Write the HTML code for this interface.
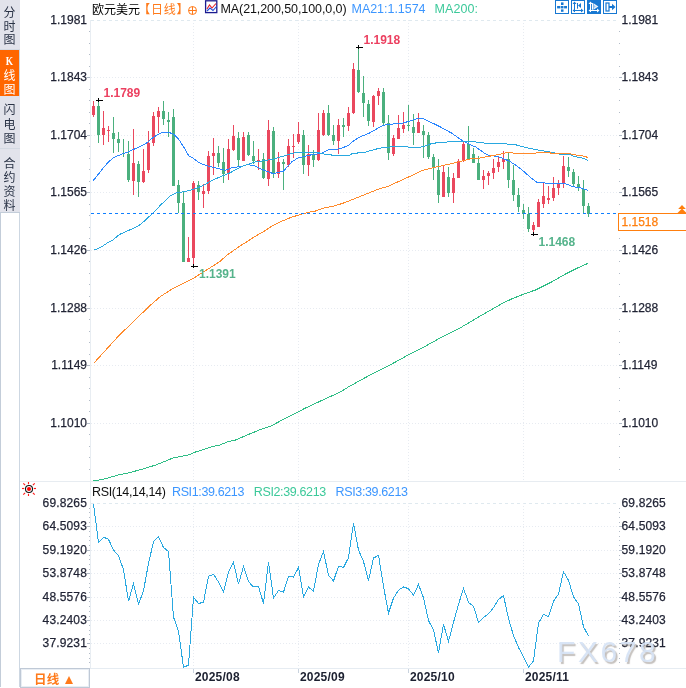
<!DOCTYPE html>
<html><head><meta charset="utf-8"><title>欧元美元 日线</title>
<style>
html,body{margin:0;padding:0;background:#fff;}
body{width:686px;height:688px;position:relative;overflow:hidden;font-family:"Liberation Sans","Noto Sans CJK SC",sans-serif;font-size:12px;color:#1f2233;}
#side{position:absolute;left:0;top:0;width:18px;height:687px;border-left:1px solid #c3cdd9;border-right:1px solid #cdd7e2;background:#fff;}
#side .tab{position:absolute;left:-1px;width:20px;background:#e2e3eb;color:#2a3346;font-size:12px;box-sizing:border-box;border-bottom:1px solid #d3d9e2;font-family:"Liberation Sans","Noto Sans CJK SC",sans-serif;}
#side .tab span{position:absolute;left:0;width:19px;text-align:center;line-height:14px;height:14px;}
#side .tab span.k{font-family:'Liberation Serif',serif;font-weight:bold;font-size:13px;transform:scaleX(0.72);}
#side .on{background:#ff6600;color:#fff;width:19px;border-bottom:none;}
svg{position:absolute;left:0;top:0;}
.yl,.yr{-webkit-text-stroke:0.25px currentColor;}
.yl{position:absolute;left:30px;width:57px;text-align:right;line-height:14px;height:14px;font-size:12px;white-space:nowrap;}
.yr{position:absolute;left:621.5px;line-height:14px;height:14px;font-size:12px;white-space:nowrap;}
.tl{position:absolute;top:670px;font-weight:bold;font-size:12px;line-height:14px;color:#1c2030;letter-spacing:0.2px;}
.hd{position:absolute;top:1px;line-height:17px;height:17px;white-space:nowrap;font-size:12px;}
.hx{font-size:12.5px;top:1.2px;}
.pk{position:absolute;font-weight:bold;font-size:12px;line-height:12px;white-space:nowrap;}
#btn{position:absolute;left:20px;top:668px;width:68px;height:18px;border:1px solid #bfc9d6;box-sizing:content-box;background:#fff;box-shadow:inset 0 0 0 1px #e9eef4;}
#wm{position:absolute;left:557px;top:634px;font-size:30px;line-height:36px;letter-spacing:2.6px;color:rgba(214,227,245,0.93);text-shadow:1.6px 1.6px 1px rgba(140,132,125,0.5);white-space:nowrap;}
</style></head><body>
<div id="side">
<div class="tab" style="top:0px;height:50px;"><span style="top:6.2px">分</span><span style="top:19.7px">时</span><span style="top:33.2px">图</span></div>
<div class="tab on" style="top:50px;height:46px;"><span class="k" style="top:4.2px">K</span><span style="top:18.9px">线</span><span style="top:32.8px">图</span></div>
<div class="tab" style="top:96px;height:53px;"><span style="top:7.2px">闪</span><span style="top:21.7px">电</span><span style="top:36.2px">图</span></div>
<div class="tab" style="top:149px;height:64px;border-bottom:1px solid #c3cdd9;"><span style="top:7.7px">合</span><span style="top:21.5px">约</span><span style="top:35.5px">资</span><span style="top:49.6px">料</span></div>
</div>
<svg width="686" height="688" viewBox="0 0 686 688">
<line x1="91" y1="20.5" x2="617" y2="20.5" stroke="#dfe9ef" stroke-width="1" stroke-dasharray="3 3"/>
<line x1="91" y1="77.5" x2="617" y2="77.5" stroke="#e7ebf1" stroke-width="1" stroke-dasharray="1 2"/>
<line x1="91" y1="135.5" x2="617" y2="135.5" stroke="#e7ebf1" stroke-width="1" stroke-dasharray="1 2"/>
<line x1="91" y1="192.5" x2="617" y2="192.5" stroke="#e7ebf1" stroke-width="1" stroke-dasharray="1 2"/>
<line x1="91" y1="250.5" x2="617" y2="250.5" stroke="#e7ebf1" stroke-width="1" stroke-dasharray="1 2"/>
<line x1="91" y1="308.5" x2="617" y2="308.5" stroke="#e7ebf1" stroke-width="1" stroke-dasharray="1 2"/>
<line x1="91" y1="365.5" x2="617" y2="365.5" stroke="#e7ebf1" stroke-width="1" stroke-dasharray="1 2"/>
<line x1="91" y1="423.5" x2="617" y2="423.5" stroke="#e7ebf1" stroke-width="1" stroke-dasharray="1 2"/>
<line x1="91" y1="503.5" x2="617" y2="503.5" stroke="#dfe9ef" stroke-width="1" stroke-dasharray="3 3"/>
<line x1="91" y1="526.5" x2="617" y2="526.5" stroke="#e7ebf1" stroke-width="1" stroke-dasharray="1 2"/>
<line x1="91" y1="550.5" x2="617" y2="550.5" stroke="#e7ebf1" stroke-width="1" stroke-dasharray="1 2"/>
<line x1="91" y1="573.5" x2="617" y2="573.5" stroke="#e7ebf1" stroke-width="1" stroke-dasharray="1 2"/>
<line x1="91" y1="597.5" x2="617" y2="597.5" stroke="#e7ebf1" stroke-width="1" stroke-dasharray="1 2"/>
<line x1="91" y1="620.5" x2="617" y2="620.5" stroke="#e7ebf1" stroke-width="1" stroke-dasharray="1 2"/>
<line x1="91" y1="643.5" x2="617" y2="643.5" stroke="#e7ebf1" stroke-width="1" stroke-dasharray="1 2"/>
<line x1="193.5" y1="20" x2="193.5" y2="481" stroke="#e7ebf1" stroke-width="1" stroke-dasharray="1 2"/>
<line x1="193.5" y1="503" x2="193.5" y2="668" stroke="#e7ebf1" stroke-width="1" stroke-dasharray="1 2"/>
<line x1="193.5" y1="668" x2="193.5" y2="673" stroke="#c9d3de" stroke-width="1"/>
<line x1="298.5" y1="20" x2="298.5" y2="481" stroke="#e7ebf1" stroke-width="1" stroke-dasharray="1 2"/>
<line x1="298.5" y1="503" x2="298.5" y2="668" stroke="#e7ebf1" stroke-width="1" stroke-dasharray="1 2"/>
<line x1="298.5" y1="668" x2="298.5" y2="673" stroke="#c9d3de" stroke-width="1"/>
<line x1="408.5" y1="20" x2="408.5" y2="481" stroke="#e7ebf1" stroke-width="1" stroke-dasharray="1 2"/>
<line x1="408.5" y1="503" x2="408.5" y2="668" stroke="#e7ebf1" stroke-width="1" stroke-dasharray="1 2"/>
<line x1="408.5" y1="668" x2="408.5" y2="673" stroke="#c9d3de" stroke-width="1"/>
<line x1="523.5" y1="20" x2="523.5" y2="481" stroke="#e7ebf1" stroke-width="1" stroke-dasharray="1 2"/>
<line x1="523.5" y1="503" x2="523.5" y2="668" stroke="#e7ebf1" stroke-width="1" stroke-dasharray="1 2"/>
<line x1="523.5" y1="668" x2="523.5" y2="673" stroke="#c9d3de" stroke-width="1"/>
<line x1="90.5" y1="20" x2="90.5" y2="668" stroke="#e8edf2" stroke-width="1"/>
<line x1="20" y1="481.5" x2="686" y2="481.5" stroke="#e7ecf1" stroke-width="1"/>
<line x1="90" y1="668.5" x2="686" y2="668.5" stroke="#e6ecf2" stroke-width="1"/>
<rect x="89" y="31" width="1" height="1" fill="#b3bcc8"/>
<rect x="619" y="31" width="1" height="1" fill="#b3bcc8"/>
<rect x="89" y="43" width="1" height="1" fill="#b3bcc8"/>
<rect x="619" y="43" width="1" height="1" fill="#b3bcc8"/>
<rect x="89" y="54" width="1" height="1" fill="#b3bcc8"/>
<rect x="619" y="54" width="1" height="1" fill="#b3bcc8"/>
<rect x="89" y="66" width="1" height="1" fill="#b3bcc8"/>
<rect x="619" y="66" width="1" height="1" fill="#b3bcc8"/>
<rect x="87" y="77" width="3" height="1" fill="#b3bcc8"/>
<rect x="619" y="77" width="3" height="1" fill="#b3bcc8"/>
<rect x="89" y="89" width="1" height="1" fill="#b3bcc8"/>
<rect x="619" y="89" width="1" height="1" fill="#b3bcc8"/>
<rect x="89" y="100" width="1" height="1" fill="#b3bcc8"/>
<rect x="619" y="100" width="1" height="1" fill="#b3bcc8"/>
<rect x="89" y="112" width="1" height="1" fill="#b3bcc8"/>
<rect x="619" y="112" width="1" height="1" fill="#b3bcc8"/>
<rect x="89" y="123" width="1" height="1" fill="#b3bcc8"/>
<rect x="619" y="123" width="1" height="1" fill="#b3bcc8"/>
<rect x="87" y="135" width="3" height="1" fill="#b3bcc8"/>
<rect x="619" y="135" width="3" height="1" fill="#b3bcc8"/>
<rect x="89" y="146" width="1" height="1" fill="#b3bcc8"/>
<rect x="619" y="146" width="1" height="1" fill="#b3bcc8"/>
<rect x="89" y="158" width="1" height="1" fill="#b3bcc8"/>
<rect x="619" y="158" width="1" height="1" fill="#b3bcc8"/>
<rect x="89" y="169" width="1" height="1" fill="#b3bcc8"/>
<rect x="619" y="169" width="1" height="1" fill="#b3bcc8"/>
<rect x="89" y="181" width="1" height="1" fill="#b3bcc8"/>
<rect x="619" y="181" width="1" height="1" fill="#b3bcc8"/>
<rect x="87" y="192" width="3" height="1" fill="#b3bcc8"/>
<rect x="619" y="192" width="3" height="1" fill="#b3bcc8"/>
<rect x="89" y="204" width="1" height="1" fill="#b3bcc8"/>
<rect x="619" y="204" width="1" height="1" fill="#b3bcc8"/>
<rect x="89" y="215" width="1" height="1" fill="#b3bcc8"/>
<rect x="619" y="215" width="1" height="1" fill="#b3bcc8"/>
<rect x="89" y="227" width="1" height="1" fill="#b3bcc8"/>
<rect x="619" y="227" width="1" height="1" fill="#b3bcc8"/>
<rect x="89" y="238" width="1" height="1" fill="#b3bcc8"/>
<rect x="619" y="238" width="1" height="1" fill="#b3bcc8"/>
<rect x="87" y="250" width="3" height="1" fill="#b3bcc8"/>
<rect x="619" y="250" width="3" height="1" fill="#b3bcc8"/>
<rect x="89" y="261" width="1" height="1" fill="#b3bcc8"/>
<rect x="619" y="261" width="1" height="1" fill="#b3bcc8"/>
<rect x="89" y="273" width="1" height="1" fill="#b3bcc8"/>
<rect x="619" y="273" width="1" height="1" fill="#b3bcc8"/>
<rect x="89" y="284" width="1" height="1" fill="#b3bcc8"/>
<rect x="619" y="284" width="1" height="1" fill="#b3bcc8"/>
<rect x="89" y="296" width="1" height="1" fill="#b3bcc8"/>
<rect x="619" y="296" width="1" height="1" fill="#b3bcc8"/>
<rect x="87" y="308" width="3" height="1" fill="#b3bcc8"/>
<rect x="619" y="308" width="3" height="1" fill="#b3bcc8"/>
<rect x="89" y="319" width="1" height="1" fill="#b3bcc8"/>
<rect x="619" y="319" width="1" height="1" fill="#b3bcc8"/>
<rect x="89" y="331" width="1" height="1" fill="#b3bcc8"/>
<rect x="619" y="331" width="1" height="1" fill="#b3bcc8"/>
<rect x="89" y="342" width="1" height="1" fill="#b3bcc8"/>
<rect x="619" y="342" width="1" height="1" fill="#b3bcc8"/>
<rect x="89" y="354" width="1" height="1" fill="#b3bcc8"/>
<rect x="619" y="354" width="1" height="1" fill="#b3bcc8"/>
<rect x="87" y="365" width="3" height="1" fill="#b3bcc8"/>
<rect x="619" y="365" width="3" height="1" fill="#b3bcc8"/>
<rect x="89" y="377" width="1" height="1" fill="#b3bcc8"/>
<rect x="619" y="377" width="1" height="1" fill="#b3bcc8"/>
<rect x="89" y="388" width="1" height="1" fill="#b3bcc8"/>
<rect x="619" y="388" width="1" height="1" fill="#b3bcc8"/>
<rect x="89" y="400" width="1" height="1" fill="#b3bcc8"/>
<rect x="619" y="400" width="1" height="1" fill="#b3bcc8"/>
<rect x="89" y="411" width="1" height="1" fill="#b3bcc8"/>
<rect x="619" y="411" width="1" height="1" fill="#b3bcc8"/>
<rect x="87" y="423" width="3" height="1" fill="#b3bcc8"/>
<rect x="619" y="423" width="3" height="1" fill="#b3bcc8"/>
<rect x="89" y="434" width="1" height="1" fill="#b3bcc8"/>
<rect x="619" y="434" width="1" height="1" fill="#b3bcc8"/>
<rect x="89" y="446" width="1" height="1" fill="#b3bcc8"/>
<rect x="619" y="446" width="1" height="1" fill="#b3bcc8"/>
<rect x="89" y="457" width="1" height="1" fill="#b3bcc8"/>
<rect x="619" y="457" width="1" height="1" fill="#b3bcc8"/>
<rect x="89" y="469" width="1" height="1" fill="#b3bcc8"/>
<rect x="619" y="469" width="1" height="1" fill="#b3bcc8"/>
<rect x="89" y="508" width="1" height="1" fill="#b3bcc8"/>
<rect x="619" y="508" width="1" height="1" fill="#b3bcc8"/>
<rect x="89" y="512" width="1" height="1" fill="#b3bcc8"/>
<rect x="619" y="512" width="1" height="1" fill="#b3bcc8"/>
<rect x="89" y="517" width="1" height="1" fill="#b3bcc8"/>
<rect x="619" y="517" width="1" height="1" fill="#b3bcc8"/>
<rect x="89" y="522" width="1" height="1" fill="#b3bcc8"/>
<rect x="619" y="522" width="1" height="1" fill="#b3bcc8"/>
<rect x="87" y="526" width="3" height="1" fill="#b3bcc8"/>
<rect x="619" y="526" width="3" height="1" fill="#b3bcc8"/>
<rect x="89" y="531" width="1" height="1" fill="#b3bcc8"/>
<rect x="619" y="531" width="1" height="1" fill="#b3bcc8"/>
<rect x="89" y="536" width="1" height="1" fill="#b3bcc8"/>
<rect x="619" y="536" width="1" height="1" fill="#b3bcc8"/>
<rect x="89" y="540" width="1" height="1" fill="#b3bcc8"/>
<rect x="619" y="540" width="1" height="1" fill="#b3bcc8"/>
<rect x="89" y="545" width="1" height="1" fill="#b3bcc8"/>
<rect x="619" y="545" width="1" height="1" fill="#b3bcc8"/>
<rect x="87" y="550" width="3" height="1" fill="#b3bcc8"/>
<rect x="619" y="550" width="3" height="1" fill="#b3bcc8"/>
<rect x="89" y="555" width="1" height="1" fill="#b3bcc8"/>
<rect x="619" y="555" width="1" height="1" fill="#b3bcc8"/>
<rect x="89" y="559" width="1" height="1" fill="#b3bcc8"/>
<rect x="619" y="559" width="1" height="1" fill="#b3bcc8"/>
<rect x="89" y="564" width="1" height="1" fill="#b3bcc8"/>
<rect x="619" y="564" width="1" height="1" fill="#b3bcc8"/>
<rect x="89" y="569" width="1" height="1" fill="#b3bcc8"/>
<rect x="619" y="569" width="1" height="1" fill="#b3bcc8"/>
<rect x="87" y="573" width="3" height="1" fill="#b3bcc8"/>
<rect x="619" y="573" width="3" height="1" fill="#b3bcc8"/>
<rect x="89" y="578" width="1" height="1" fill="#b3bcc8"/>
<rect x="619" y="578" width="1" height="1" fill="#b3bcc8"/>
<rect x="89" y="583" width="1" height="1" fill="#b3bcc8"/>
<rect x="619" y="583" width="1" height="1" fill="#b3bcc8"/>
<rect x="89" y="587" width="1" height="1" fill="#b3bcc8"/>
<rect x="619" y="587" width="1" height="1" fill="#b3bcc8"/>
<rect x="89" y="592" width="1" height="1" fill="#b3bcc8"/>
<rect x="619" y="592" width="1" height="1" fill="#b3bcc8"/>
<rect x="87" y="597" width="3" height="1" fill="#b3bcc8"/>
<rect x="619" y="597" width="3" height="1" fill="#b3bcc8"/>
<rect x="89" y="601" width="1" height="1" fill="#b3bcc8"/>
<rect x="619" y="601" width="1" height="1" fill="#b3bcc8"/>
<rect x="89" y="606" width="1" height="1" fill="#b3bcc8"/>
<rect x="619" y="606" width="1" height="1" fill="#b3bcc8"/>
<rect x="89" y="611" width="1" height="1" fill="#b3bcc8"/>
<rect x="619" y="611" width="1" height="1" fill="#b3bcc8"/>
<rect x="89" y="616" width="1" height="1" fill="#b3bcc8"/>
<rect x="619" y="616" width="1" height="1" fill="#b3bcc8"/>
<rect x="87" y="620" width="3" height="1" fill="#b3bcc8"/>
<rect x="619" y="620" width="3" height="1" fill="#b3bcc8"/>
<rect x="89" y="625" width="1" height="1" fill="#b3bcc8"/>
<rect x="619" y="625" width="1" height="1" fill="#b3bcc8"/>
<rect x="89" y="630" width="1" height="1" fill="#b3bcc8"/>
<rect x="619" y="630" width="1" height="1" fill="#b3bcc8"/>
<rect x="89" y="634" width="1" height="1" fill="#b3bcc8"/>
<rect x="619" y="634" width="1" height="1" fill="#b3bcc8"/>
<rect x="89" y="639" width="1" height="1" fill="#b3bcc8"/>
<rect x="619" y="639" width="1" height="1" fill="#b3bcc8"/>
<rect x="87" y="643" width="3" height="1" fill="#b3bcc8"/>
<rect x="619" y="643" width="3" height="1" fill="#b3bcc8"/>
<rect x="89" y="648" width="1" height="1" fill="#b3bcc8"/>
<rect x="619" y="648" width="1" height="1" fill="#b3bcc8"/>
<rect x="89" y="653" width="1" height="1" fill="#b3bcc8"/>
<rect x="619" y="653" width="1" height="1" fill="#b3bcc8"/>
<rect x="89" y="658" width="1" height="1" fill="#b3bcc8"/>
<rect x="619" y="658" width="1" height="1" fill="#b3bcc8"/>
<rect x="89" y="662" width="1" height="1" fill="#b3bcc8"/>
<rect x="619" y="662" width="1" height="1" fill="#b3bcc8"/>
<g shape-rendering="crispEdges"><rect x="93" y="101" width="1" height="16" fill="#ea485e"/><rect x="92" y="106" width="3" height="9" fill="#ea485e"/><rect x="98" y="100" width="1" height="43" fill="#4bb07e"/><rect x="97" y="106" width="3" height="29" fill="#4bb07e"/><rect x="103" y="111" width="1" height="34" fill="#ea485e"/><rect x="102" y="128" width="3" height="7" fill="#ea485e"/><rect x="108" y="126" width="1" height="16" fill="#ea485e"/><rect x="107" y="130" width="3" height="1" fill="#ea485e"/><rect x="113" y="117" width="1" height="36" fill="#4bb07e"/><rect x="112" y="133" width="3" height="6" fill="#4bb07e"/><rect x="118" y="132" width="1" height="20" fill="#4bb07e"/><rect x="117" y="139" width="3" height="4" fill="#4bb07e"/><rect x="123" y="139" width="1" height="18" fill="#4bb07e"/><rect x="128" y="141" width="1" height="41" fill="#4bb07e"/><rect x="127" y="154" width="3" height="26" fill="#4bb07e"/><rect x="133" y="129" width="1" height="66" fill="#ea485e"/><rect x="132" y="163" width="3" height="18" fill="#ea485e"/><rect x="138" y="161" width="1" height="36" fill="#4bb07e"/><rect x="137" y="164" width="3" height="18" fill="#4bb07e"/><rect x="143" y="149" width="1" height="34" fill="#ea485e"/><rect x="142" y="171" width="3" height="11" fill="#ea485e"/><rect x="148" y="131" width="1" height="42" fill="#ea485e"/><rect x="147" y="143" width="3" height="27" fill="#ea485e"/><rect x="153" y="112" width="1" height="34" fill="#ea485e"/><rect x="152" y="116" width="3" height="27" fill="#ea485e"/><rect x="158" y="107" width="1" height="26" fill="#ea485e"/><rect x="157" y="111" width="3" height="6" fill="#ea485e"/><rect x="163" y="101" width="1" height="24" fill="#4bb07e"/><rect x="162" y="111" width="3" height="8" fill="#4bb07e"/><rect x="168" y="112" width="1" height="25" fill="#4bb07e"/><rect x="167" y="120" width="3" height="2" fill="#4bb07e"/><rect x="173" y="109" width="1" height="77" fill="#4bb07e"/><rect x="172" y="117" width="3" height="69" fill="#4bb07e"/><rect x="178" y="180" width="1" height="33" fill="#4bb07e"/><rect x="177" y="185" width="3" height="18" fill="#4bb07e"/><rect x="183" y="191" width="1" height="71" fill="#4bb07e"/><rect x="182" y="203" width="3" height="59" fill="#4bb07e"/><rect x="188" y="237" width="1" height="25" fill="#ea485e"/><rect x="187" y="258" width="3" height="4" fill="#ea485e"/><rect x="193" y="181" width="1" height="85" fill="#ea485e"/><rect x="192" y="183" width="3" height="75" fill="#ea485e"/><rect x="198" y="181" width="1" height="19" fill="#4bb07e"/><rect x="197" y="185" width="3" height="7" fill="#4bb07e"/><rect x="203" y="184" width="1" height="24" fill="#ea485e"/><rect x="202" y="190.5" width="3" height="3.5" fill="#ea485e"/><rect x="208" y="151" width="1" height="42.5" fill="#ea485e"/><rect x="207" y="156" width="3" height="34.5" fill="#ea485e"/><rect x="213" y="138" width="1" height="37" fill="#ea485e"/><rect x="212" y="153" width="3" height="3" fill="#ea485e"/><rect x="218" y="146" width="1" height="21" fill="#4bb07e"/><rect x="217" y="153" width="3" height="10" fill="#4bb07e"/><rect x="223" y="148" width="1" height="35" fill="#4bb07e"/><rect x="222" y="162" width="3" height="12" fill="#4bb07e"/><rect x="228" y="139" width="1" height="41" fill="#ea485e"/><rect x="227" y="149" width="3" height="25" fill="#ea485e"/><rect x="233" y="125" width="1" height="26" fill="#ea485e"/><rect x="232" y="136" width="3" height="14" fill="#ea485e"/><rect x="238" y="132" width="1" height="34" fill="#4bb07e"/><rect x="237" y="138" width="3" height="22" fill="#4bb07e"/><rect x="243" y="132" width="1" height="29" fill="#ea485e"/><rect x="242" y="137" width="3" height="24" fill="#ea485e"/><rect x="248" y="132" width="1" height="24" fill="#4bb07e"/><rect x="247" y="135" width="3" height="20" fill="#4bb07e"/><rect x="253" y="141" width="1" height="22.5" fill="#4bb07e"/><rect x="252" y="156" width="3" height="5" fill="#4bb07e"/><rect x="258" y="149" width="1" height="21" fill="#ea485e"/><rect x="257" y="160" width="3" height="2" fill="#ea485e"/><rect x="263" y="153" width="1" height="26" fill="#4bb07e"/><rect x="262" y="159" width="3" height="19" fill="#4bb07e"/><rect x="268" y="120" width="1" height="66" fill="#ea485e"/><rect x="267" y="130" width="3" height="49" fill="#ea485e"/><rect x="273" y="127" width="1" height="51" fill="#4bb07e"/><rect x="272" y="131" width="3" height="43" fill="#4bb07e"/><rect x="278" y="152" width="1" height="26" fill="#ea485e"/><rect x="277" y="162" width="3" height="12" fill="#ea485e"/><rect x="283" y="159" width="1" height="31" fill="#4bb07e"/><rect x="282" y="162" width="3" height="2" fill="#4bb07e"/><rect x="288" y="139" width="1" height="28" fill="#ea485e"/><rect x="287" y="146" width="3" height="19" fill="#ea485e"/><rect x="293" y="134" width="1" height="24" fill="#ea485e"/><rect x="292" y="146" width="3" height="1" fill="#ea485e"/><rect x="298" y="122" width="1" height="22" fill="#ea485e"/><rect x="297" y="134" width="3" height="8" fill="#ea485e"/><rect x="303" y="130" width="1" height="44" fill="#4bb07e"/><rect x="302" y="135" width="3" height="30" fill="#4bb07e"/><rect x="308" y="145" width="1" height="31" fill="#ea485e"/><rect x="307" y="154" width="3" height="11" fill="#ea485e"/><rect x="313" y="150" width="1" height="17" fill="#4bb07e"/><rect x="312" y="154" width="3" height="6" fill="#4bb07e"/><rect x="318" y="113" width="1" height="48" fill="#ea485e"/><rect x="317" y="130" width="3" height="30" fill="#ea485e"/><rect x="323" y="110" width="1" height="26" fill="#ea485e"/><rect x="322" y="113" width="3" height="22" fill="#ea485e"/><rect x="328" y="105" width="1" height="31" fill="#4bb07e"/><rect x="327" y="113" width="3" height="22" fill="#4bb07e"/><rect x="333" y="125" width="1" height="20" fill="#4bb07e"/><rect x="332" y="135" width="3" height="6" fill="#4bb07e"/><rect x="338" y="119" width="1" height="35" fill="#ea485e"/><rect x="337" y="125" width="3" height="16" fill="#ea485e"/><rect x="343" y="118" width="1" height="19" fill="#4bb07e"/><rect x="342" y="125" width="3" height="2" fill="#4bb07e"/><rect x="348" y="107" width="1" height="24" fill="#ea485e"/><rect x="347" y="113" width="3" height="13" fill="#ea485e"/><rect x="353" y="63" width="1" height="51" fill="#ea485e"/><rect x="352" y="69" width="3" height="44" fill="#ea485e"/><rect x="358" y="46" width="1" height="47" fill="#4bb07e"/><rect x="357" y="70" width="3" height="22" fill="#4bb07e"/><rect x="363" y="76" width="1" height="41" fill="#4bb07e"/><rect x="362" y="93" width="3" height="10" fill="#4bb07e"/><rect x="368" y="100" width="1" height="26" fill="#4bb07e"/><rect x="367" y="104" width="3" height="16.5" fill="#4bb07e"/><rect x="373" y="95" width="1" height="32" fill="#ea485e"/><rect x="372" y="96" width="3" height="25.5" fill="#ea485e"/><rect x="378" y="88" width="1" height="17" fill="#ea485e"/><rect x="377" y="91" width="3" height="5" fill="#ea485e"/><rect x="383" y="88" width="1" height="37" fill="#4bb07e"/><rect x="382" y="92" width="3" height="31" fill="#4bb07e"/><rect x="388" y="115" width="1" height="45" fill="#4bb07e"/><rect x="387" y="123" width="3" height="30" fill="#4bb07e"/><rect x="393" y="135" width="1" height="21" fill="#ea485e"/><rect x="392" y="138" width="3" height="16" fill="#ea485e"/><rect x="398" y="115" width="1" height="24" fill="#ea485e"/><rect x="397" y="128" width="3" height="11" fill="#ea485e"/><rect x="403" y="112" width="1" height="21" fill="#ea485e"/><rect x="402" y="125" width="3" height="4" fill="#ea485e"/><rect x="408" y="105" width="1" height="26" fill="#4bb07e"/><rect x="407" y="125" width="3" height="1" fill="#4bb07e"/><rect x="413" y="114" width="1" height="31" fill="#4bb07e"/><rect x="412" y="127" width="3" height="6" fill="#4bb07e"/><rect x="418" y="113" width="1" height="20" fill="#ea485e"/><rect x="417" y="122" width="3" height="11" fill="#ea485e"/><rect x="423" y="125" width="1" height="33" fill="#4bb07e"/><rect x="422" y="131" width="3" height="4" fill="#4bb07e"/><rect x="428" y="132" width="1" height="27" fill="#4bb07e"/><rect x="427" y="135" width="3" height="22" fill="#4bb07e"/><rect x="433" y="154" width="1" height="26" fill="#4bb07e"/><rect x="432" y="157" width="3" height="11" fill="#4bb07e"/><rect x="438" y="159" width="1" height="44" fill="#4bb07e"/><rect x="437" y="170" width="3" height="25" fill="#4bb07e"/><rect x="443" y="166" width="1" height="31" fill="#ea485e"/><rect x="442" y="172" width="3" height="25" fill="#ea485e"/><rect x="448" y="167" width="1" height="30" fill="#4bb07e"/><rect x="447" y="177" width="3" height="16" fill="#4bb07e"/><rect x="453" y="173" width="1" height="30" fill="#ea485e"/><rect x="452" y="178" width="3" height="15" fill="#ea485e"/><rect x="458" y="159" width="1" height="19" fill="#ea485e"/><rect x="457" y="161" width="3" height="17" fill="#ea485e"/><rect x="463" y="142" width="1" height="20" fill="#ea485e"/><rect x="462" y="144" width="3" height="17" fill="#ea485e"/><rect x="468" y="126" width="1" height="33" fill="#4bb07e"/><rect x="467" y="144" width="3" height="15" fill="#4bb07e"/><rect x="473" y="148" width="1" height="15" fill="#4bb07e"/><rect x="472" y="154" width="3" height="9" fill="#4bb07e"/><rect x="478" y="156" width="1" height="24" fill="#4bb07e"/><rect x="477" y="163" width="3" height="17" fill="#4bb07e"/><rect x="483" y="170" width="1" height="19" fill="#ea485e"/><rect x="482" y="176" width="3" height="4" fill="#ea485e"/><rect x="488" y="171" width="1" height="14" fill="#ea485e"/><rect x="487" y="173" width="3" height="3" fill="#ea485e"/><rect x="493" y="159" width="1" height="20" fill="#ea485e"/><rect x="492" y="168" width="3" height="5" fill="#ea485e"/><rect x="498" y="157" width="1" height="15" fill="#ea485e"/><rect x="497" y="162" width="3" height="5" fill="#ea485e"/><rect x="503" y="151" width="1" height="18" fill="#ea485e"/><rect x="502" y="159" width="3" height="3" fill="#ea485e"/><rect x="508" y="153" width="1" height="35" fill="#4bb07e"/><rect x="507" y="159" width="3" height="21" fill="#4bb07e"/><rect x="513" y="165" width="1" height="36" fill="#4bb07e"/><rect x="512" y="180" width="3" height="15" fill="#4bb07e"/><rect x="518" y="188" width="1" height="24" fill="#4bb07e"/><rect x="517" y="195" width="3" height="12" fill="#4bb07e"/><rect x="523" y="204" width="1" height="15" fill="#4bb07e"/><rect x="522" y="210" width="3" height="4" fill="#4bb07e"/><rect x="528" y="207" width="1" height="25" fill="#4bb07e"/><rect x="527" y="214" width="3" height="15" fill="#4bb07e"/><rect x="533" y="222" width="1" height="12" fill="#ea485e"/><rect x="532" y="225" width="3" height="5" fill="#ea485e"/><rect x="538" y="199" width="1" height="28" fill="#ea485e"/><rect x="537" y="202" width="3" height="25" fill="#ea485e"/><rect x="543" y="183" width="1" height="25" fill="#ea485e"/><rect x="542" y="196" width="3" height="8" fill="#ea485e"/><rect x="548" y="186" width="1" height="18" fill="#ea485e"/><rect x="547" y="198" width="3" height="2" fill="#ea485e"/><rect x="553" y="177" width="1" height="24" fill="#ea485e"/><rect x="552" y="188" width="3" height="10" fill="#ea485e"/><rect x="558" y="180" width="1" height="15" fill="#ea485e"/><rect x="557" y="184" width="3" height="4" fill="#ea485e"/><rect x="563" y="156" width="1" height="32" fill="#ea485e"/><rect x="562" y="166" width="3" height="17.5" fill="#ea485e"/><rect x="568" y="157" width="1" height="20" fill="#4bb07e"/><rect x="567" y="167" width="3" height="4" fill="#4bb07e"/><rect x="573" y="169" width="1" height="17" fill="#4bb07e"/><rect x="572" y="172" width="3" height="12" fill="#4bb07e"/><rect x="578" y="176" width="1" height="15" fill="#4bb07e"/><rect x="577" y="184" width="3" height="3" fill="#4bb07e"/><rect x="583" y="180" width="1" height="33.5" fill="#4bb07e"/><rect x="582" y="188.5" width="3" height="17.5" fill="#4bb07e"/><rect x="588" y="203" width="1" height="14" fill="#4bb07e"/><rect x="587" y="206" width="3" height="7.5" fill="#4bb07e"/></g>
<polyline points="92.8,181.2 102.6,168.8 108.0,162.5 113.5,157.5 118.0,155.7 123.5,153.5 128.5,151.7 133.5,149.5 138.5,147.3 143.5,144.8 148.5,141.9 150.0,139.7 153.5,137.3 157.0,135.1 162.2,132.5 169.2,132.5 173.6,134.2 178.9,139.5 185.0,149.1 188.9,156.1 192.9,157.7 195.5,160.1 199.0,162.7 202.5,164.4 206.0,165.3 210.0,166.6 213.6,167.4 220.9,169.3 225.3,170.4 232.6,167.4 241.3,166.7 247.1,164.7 253.7,165.4 258.8,167.9 264.6,170.5 273.4,173.7 279.2,172.3 283.5,171.1 292.0,161.6 298.0,158.0 310.0,155.1 322.0,153.2 328.0,150.0 340.0,148.8 348.0,145.6 355.0,139.8 362.0,136.1 370.0,132.8 378.0,128.1 383.0,125.3 395.0,123.8 403.0,123.1 410.0,120.9 418.5,118.3 423.0,118.3 428.0,120.9 440.0,126.7 452.0,133.3 458.0,137.7 463.0,140.9 473.0,146.0 476.0,147.1 484.0,152.9 488.0,155.1 497.0,156.5 503.0,158.4 510.0,161.6 516.0,165.3 523.0,170.8 530.0,177.0 537.0,182.3 544.0,182.8 547.0,183.6 565.0,183.5 572.0,186.4 583.0,188.4 588.0,190.6" fill="none" stroke="#2a86ff" stroke-width="1" shape-rendering="crispEdges"/>
<polyline points="93.4,480.5 99.5,480.0 109.0,477.7 118.4,475.0 127.9,473.0 137.4,470.5 146.9,467.8 156.3,464.8 165.8,461.0 173.4,457.8 181.0,456.5 188.5,455.0 196.1,451.7 203.7,449.6 211.3,446.8 219.5,445.1 229.0,441.3 234.6,440.4 247.9,434.7 259.3,430.0 270.6,426.2 282.0,420.1 293.4,414.4 304.8,408.4 316.1,403.1 327.5,397.8 340.0,392.1 349.0,386.6 367.9,376.2 386.9,366.7 405.8,356.3 424.8,346.5 443.7,336.0 460.0,328.0 480.4,315.9 500.8,304.3 511.0,299.2 525.3,293.5 535.5,290.0 551.8,281.8 566.1,273.7 578.4,267.6 587.6,263.5" fill="none" stroke="#2ebd85" stroke-width="1" shape-rendering="crispEdges"/>
<polyline points="93.5,250.4 95.0,249.6 97.9,248.6 102.0,246.5 104.9,244.5 109.6,241.6 112.5,240.4 116.0,237.4 119.5,234.5 124.2,232.4 128.2,230.5 131.2,229.3 135.0,227.3 137.6,226.4 141.9,223.3 152.1,213.8 160.9,204.8 169.6,196.3 175.5,193.1 183.0,191.9 191.7,189.8 202.0,186.1 208.5,182.5 212.2,180.3 220.9,176.6 229.6,173.0 241.3,166.7 247.1,164.7 255.9,161.8 264.6,160.6 273.4,159.1 283.0,156.2 290.0,154.1 296.0,152.5 318.0,152.5 326.0,154.4 336.0,155.5 349.0,155.5 352.0,153.6 365.0,152.2 378.0,148.6 385.0,147.4 402.0,146.0 410.0,147.4 420.0,147.4 425.0,146.0 432.0,143.5 437.0,142.8 455.0,141.3 473.0,141.7 487.0,143.4 503.0,143.7 515.0,144.6 525.0,147.4 533.0,149.0 546.0,151.4 555.0,152.9 561.0,154.5 570.0,154.5 573.0,156.2 583.0,158.2 588.0,160.6" fill="none" stroke="#29a8e0" stroke-width="1" shape-rendering="crispEdges"/>
<polyline points="93.5,363.5 118.6,335.9 149.2,306.3 160.4,296.5 173.7,288.0 194.1,277.8 210.4,267.6 220.0,261.4 227.3,254.9 234.6,249.8 241.9,244.7 249.2,240.3 255.0,236.4 263.7,231.5 271.0,226.7 278.3,222.8 285.6,219.6 292.9,216.7 298.7,215.2 304.5,213.3 310.4,211.9 315.0,211.2 323.7,208.0 334.0,206.1 344.2,202.8 352.9,199.3 361.6,195.9 370.4,192.3 377.7,189.4 387.9,186.4 396.6,182.4 405.4,178.4 415.0,174.1 422.0,170.6 432.0,168.0 445.0,165.1 458.0,162.0 473.0,158.2 480.0,158.0 490.0,156.1 500.0,154.4 506.0,152.6 510.0,152.6 515.0,153.3 535.0,153.4 538.0,152.4 549.0,152.4 552.0,153.6 570.0,153.6 573.0,154.5 580.0,155.6 585.0,156.2 588.0,157.8" fill="none" stroke="#ff8a2b" stroke-width="1" shape-rendering="crispEdges"/>
<line x1="91" y1="213.5" x2="618" y2="213.5" stroke="#0f7fff" stroke-width="1" stroke-dasharray="3 3" shape-rendering="crispEdges"/>
<polyline points="93.5,504.1 98.5,542.5 103.5,537.2 108.5,539.3 113.5,550.1 118.5,555.8 123.5,569.6 128.5,601.3 133.5,583.7 138.5,604.1 143.5,590.9 148.5,563.4 153.5,541.6 158.5,536.5 163.5,547.6 168.5,551.4 173.5,617.0 178.5,631.0 183.5,667.3 188.5,665.1 193.5,597.2 198.5,603.5 203.5,602.3 208.5,576.2 213.5,574.3 218.5,582.0 223.5,592.2 228.5,572.0 233.5,562.5 238.5,584.2 243.5,566.4 248.5,581.7 253.5,587.0 258.5,586.6 263.5,603.5 268.5,562.0 273.5,598.1 278.5,590.6 283.5,592.2 288.5,576.1 293.5,577.2 298.5,567.5 303.5,596.5 308.5,587.1 313.5,591.2 318.5,564.3 323.5,551.6 328.5,575.3 333.5,581.0 338.5,566.2 343.5,567.5 348.5,557.7 353.5,523.2 358.5,550.1 363.5,561.5 368.5,580.4 373.5,558.1 378.5,555.2 383.5,586.5 388.5,613.1 393.5,598.1 398.5,590.2 403.5,587.0 408.5,588.7 413.5,595.3 418.5,584.5 423.5,597.8 428.5,620.5 433.5,630.0 438.5,652.8 443.5,624.3 448.5,641.4 453.5,622.4 458.5,604.4 463.5,588.3 468.5,602.5 473.5,606.3 478.5,622.4 483.5,617.3 488.5,613.9 493.5,607.7 498.5,599.5 503.5,595.5 508.5,618.4 513.5,635.5 518.5,647.4 523.5,657.1 528.5,667.1 533.5,660.9 538.5,623.0 543.5,614.4 548.5,616.9 553.5,601.2 558.5,594.0 563.5,571.8 568.5,580.3 573.5,596.8 578.5,604.0 583.5,626.7 588.5,636.2" fill="none" stroke="#29a8e0" stroke-width="1" shape-rendering="crispEdges"/>
<g shape-rendering="crispEdges"><rect x="96" y="100" width="7" height="1" fill="#000"/><rect x="98" y="98" width="1" height="4" fill="#000"/><rect x="356" y="47" width="7" height="1" fill="#000"/><rect x="358" y="45" width="1" height="4" fill="#000"/><rect x="191" y="266" width="7" height="1" fill="#000"/><rect x="193" y="264" width="1" height="4" fill="#000"/><rect x="531" y="234" width="7" height="1" fill="#000"/><rect x="533" y="232" width="1" height="4" fill="#000"/></g>
<rect x="618.5" y="213.5" width="80" height="17" fill="#fff" stroke="#ff7f0e" stroke-width="1"/>
<polygon points="682,205 685.8,209 678.2,209" fill="#ff7f0e"/>
<polygon points="682,208.5 687,213.5 677,213.5" fill="#ff7f0e"/>
<g><rect x="205.6" y="0.8" width="11.2" height="11.8" fill="#fff" stroke="#1b1b8f" stroke-width="1.3"/><polyline points="207,9 209.5,5 212,8 216,3.5" fill="none" stroke="#e0202a" stroke-width="1.1"/><polyline points="207,11 210,8 213,10.5 216.5,6.5" fill="none" stroke="#2450d8" stroke-width="1.1"/></g>
<g stroke="#ff7a1a" stroke-width="1" fill="none"><circle cx="192.5" cy="10.5" r="4"/><line x1="188.5" y1="10.5" x2="196.5" y2="10.5"/><line x1="192.5" y1="6.5" x2="192.5" y2="14.5"/></g>
<g><rect x="555.5" y="0.5" width="13" height="13" fill="#fff" stroke="#1778d2" stroke-width="1"/><rect x="561" y="2.4" width="2.5" height="2.6" fill="#1778d2"/><rect x="561" y="6" width="2.5" height="2.4" fill="#1778d2"/><rect x="561" y="9.4" width="2.5" height="2.4" fill="#1778d2"/><rect x="557.1" y="6" width="3.3" height="2.4" fill="#1778d2"/><rect x="564.1" y="6" width="2.9" height="2.4" fill="#1778d2"/></g>
<rect x="571.5" y="0.5" width="13" height="13" fill="#fff" stroke="#1778d2" stroke-width="1"/><g fill="#1778d2" stroke="none"><rect x="574" y="3" width="1" height="9"/><polygon points="574.5,1.5 576.5,4 572.5,4"/><polygon points="574.5,13 576.5,10.8 572.5,10.8" opacity="0"/><rect x="573" y="10" width="10" height="1"/><polygon points="583.5,10.5 581,8.5 581,12.5"/><polygon points="572.5,10.5 575,8.8 575,12.2"/><rect x="577" y="3" width="1" height="5.7"/><polygon points="578,5.5 581,3 581,8"/></g>
<rect x="587" y="0" width="14" height="14" fill="#1778d2"/><g fill="#fff" stroke="none"><rect x="590" y="3" width="1" height="9"/><polygon points="590.5,1.5 592.5,4 588.5,4"/><polygon points="590.5,13 592.5,10.8 588.5,10.8" opacity="0"/><rect x="589" y="10" width="10" height="1"/><polygon points="599.5,10.5 597,8.5 597,12.5"/><polygon points="588.5,10.5 591,8.8 591,12.2"/><rect x="591.9" y="3.1" width="1.2" height="6.6"/><polygon points="593.5,3.2 598.4,6.5 593.5,9.8" opacity="0.9"/><polygon points="593.9,5 595.8,6.5 593.9,8" fill="#1778d2" opacity="0.35"/></g>
<rect x="603.5" y="0.5" width="13" height="13" fill="#fff" stroke="#1778d2" stroke-width="1"/>
<g fill="none" stroke="#1778d2"><rect x="606" y="3" width="3" height="8" stroke-width="1.2"/></g><rect x="609" y="6" width="4" height="2" fill="#1778d2"/><polygon points="615.5,7 612,3.8 612,10.2" fill="#1778d2"/>
<g><line x1="28.5" y1="482" x2="28.5" y2="484.2" stroke="#ff1a1a" stroke-width="1.15"/><line x1="28.5" y1="493.8" x2="28.5" y2="496" stroke="#ff1a1a" stroke-width="1.15"/><line x1="22" y1="488.5" x2="24.2" y2="488.5" stroke="#ff1a1a" stroke-width="1.15"/><line x1="33.8" y1="488.5" x2="36" y2="488.5" stroke="#ff1a1a" stroke-width="1.15"/><line x1="32.90" y1="492.90" x2="34.70" y2="494.70" stroke="#ff1a1a" stroke-width="1.15"/><line x1="32.90" y1="485.10" x2="34.70" y2="483.30" stroke="#ff1a1a" stroke-width="1.15"/><line x1="25.10" y1="492.90" x2="23.30" y2="494.70" stroke="#ff1a1a" stroke-width="1.15"/><line x1="25.10" y1="485.10" x2="23.30" y2="483.30" stroke="#ff1a1a" stroke-width="1.15"/><circle cx="29" cy="489" r="3.5" fill="#fff" stroke="#111" stroke-width="1.1"/><circle cx="29" cy="489" r="2.05" fill="#ff0000"/></g>
</svg>
<div class="hd" style="left:92px;top:1.8px;color:#000;">欧元美元<span style="color:#ff7a1a;margin-left:-1.9px;letter-spacing:0.8px">【日线】</span></div>
<div class="hd hx" style="left:220.5px;color:#111;letter-spacing:-0.09px;">MA(21,200,50,100,0,0)</div>
<div class="hd hx" style="left:351.5px;color:#3c96ff;letter-spacing:-0.03px;">MA21:1.1574</div>
<div class="hd hx" style="left:434.5px;color:#3cc99a;letter-spacing:0.08px;">MA200:</div>
<div class="hd hx" style="left:92px;top:484.3px;color:#111;letter-spacing:-0.33px;">RSI(14,14,14)</div>
<div class="hd hx" style="left:172px;top:484.3px;color:#3c96ff;letter-spacing:-0.37px;">RSI1:39.6213</div>
<div class="hd hx" style="left:253.8px;top:484.3px;color:#3cc99a;letter-spacing:-0.37px;">RSI2:39.6213</div>
<div class="hd hx" style="left:335.6px;top:484.3px;color:#3c96ff;letter-spacing:-0.37px;">RSI3:39.6213</div>
<div class="yl" style="top:13px">1.1981</div><div class="yr" style="top:13px">1.1981</div><div class="yl" style="top:70px">1.1843</div><div class="yr" style="top:70px">1.1843</div><div class="yl" style="top:128px">1.1704</div><div class="yr" style="top:128px">1.1704</div><div class="yl" style="top:185px">1.1565</div><div class="yr" style="top:185px">1.1565</div><div class="yl" style="top:243px">1.1426</div><div class="yr" style="top:243px">1.1426</div><div class="yl" style="top:301px">1.1288</div><div class="yr" style="top:301px">1.1288</div><div class="yl" style="top:358px">1.1149</div><div class="yr" style="top:358px">1.1149</div><div class="yl" style="top:416px">1.1010</div><div class="yr" style="top:416px">1.1010</div><div class="yl" style="top:496.0px;letter-spacing:0.15px">69.8265</div><div class="yr" style="top:496.0px;letter-spacing:0.15px">69.8265</div><div class="yl" style="top:519.0px;letter-spacing:0.15px">64.5093</div><div class="yr" style="top:519.0px;letter-spacing:0.15px">64.5093</div><div class="yl" style="top:543.0px;letter-spacing:0.15px">59.1920</div><div class="yr" style="top:543.0px;letter-spacing:0.15px">59.1920</div><div class="yl" style="top:566.0px;letter-spacing:0.15px">53.8748</div><div class="yr" style="top:566.0px;letter-spacing:0.15px">53.8748</div><div class="yl" style="top:590.0px;letter-spacing:0.15px">48.5576</div><div class="yr" style="top:590.0px;letter-spacing:0.15px">48.5576</div><div class="yl" style="top:613.0px;letter-spacing:0.15px">43.2403</div><div class="yr" style="top:613.0px;letter-spacing:0.15px">43.2403</div><div class="yl" style="top:636.0px;letter-spacing:0.15px">37.9231</div><div class="yr" style="top:636.0px;letter-spacing:0.15px">37.9231</div><div class="tl" style="left:195px">2025/08</div><div class="tl" style="left:300px">2025/09</div><div class="tl" style="left:410px">2025/10</div><div class="tl" style="left:525px">2025/11</div>
<div class="pk" style="left:103.5px;top:87px;color:#ec4060;">1.1789</div>
<div class="pk" style="left:363.5px;top:34px;color:#ec4060;">1.1918</div>
<div class="pk" style="left:199px;top:268px;color:#55b38b;">1.1391</div>
<div class="pk" style="left:538.5px;top:236px;color:#55b38b;">1.1468</div>
<div class="yr" style="top:215px;color:#ff7f0e;">1.1518</div>
<div id="btn"><span style="position:absolute;left:13px;top:3.5px;font-weight:bold;color:#ff7a1a;font-size:12.5px;line-height:14px;letter-spacing:0.3px;white-space:nowrap">日线</span><span style="position:absolute;left:43.5px;top:6.5px;width:0;height:0;border-left:4.5px solid transparent;border-right:4.5px solid transparent;border-bottom:8px solid #ff7a1a;"></span></div>
<div id="wm">FX678</div>
</body></html>
